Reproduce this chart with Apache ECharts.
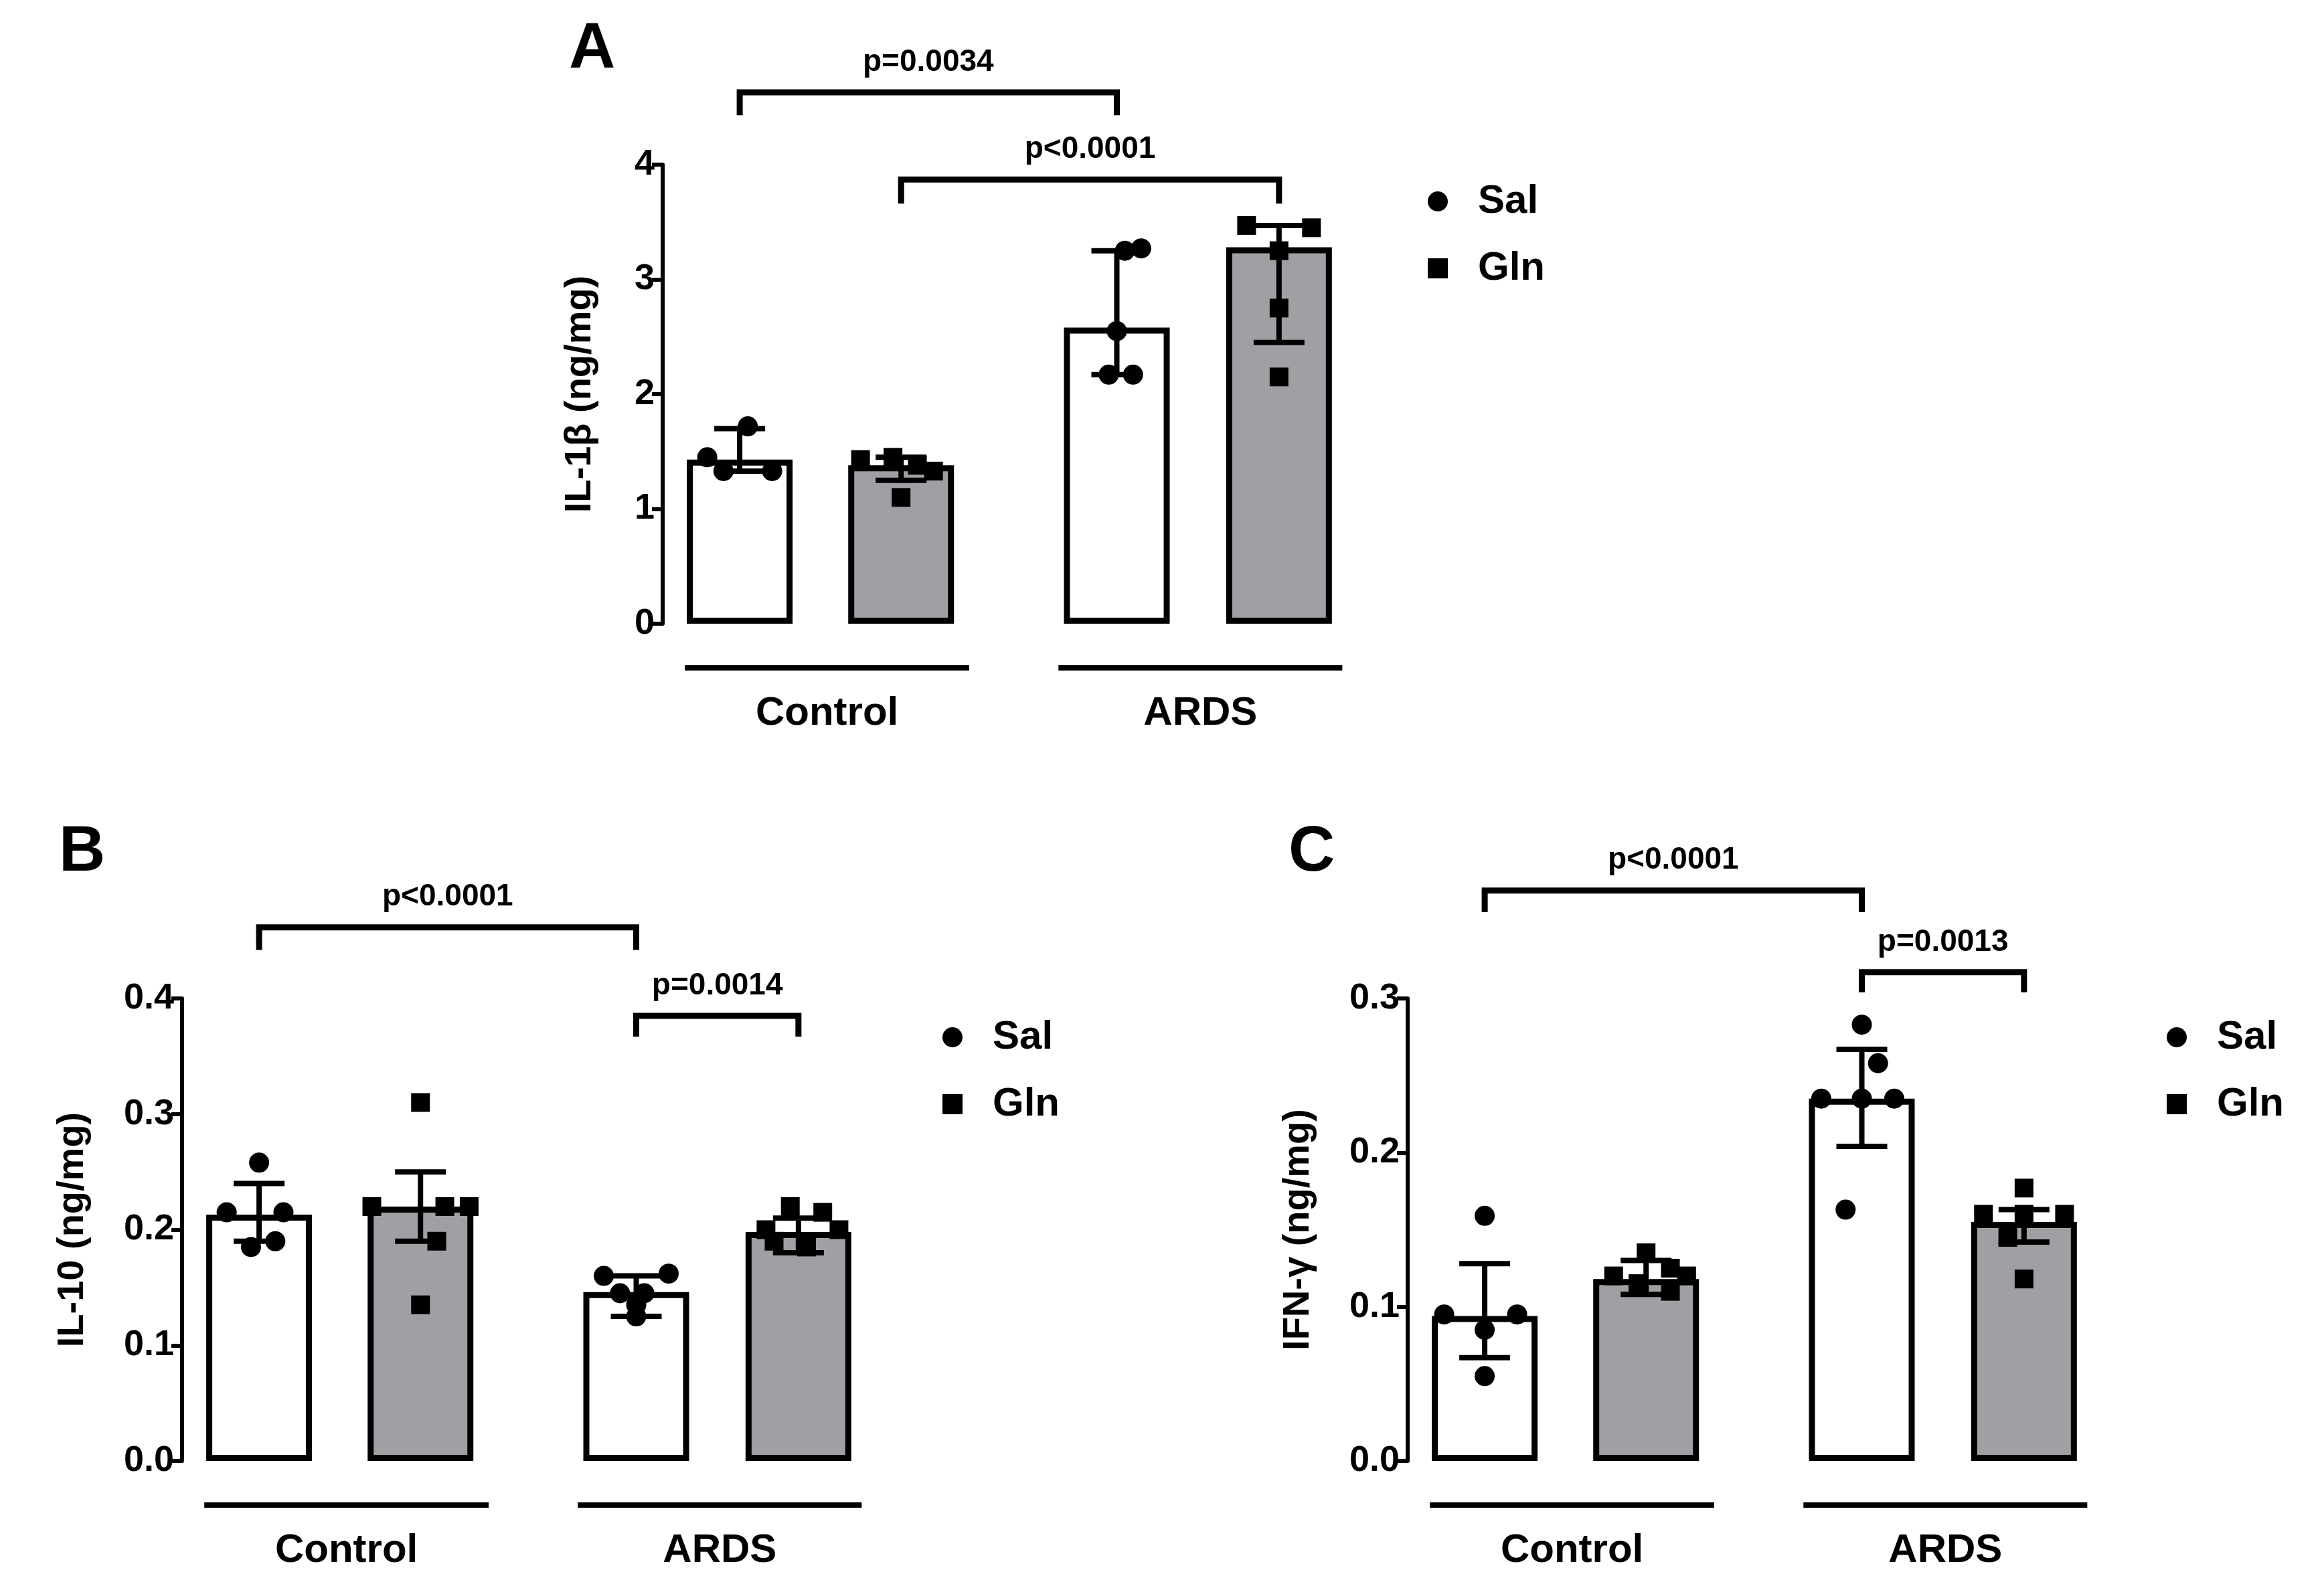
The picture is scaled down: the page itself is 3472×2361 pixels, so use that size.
<!DOCTYPE html>
<html><head><meta charset="utf-8">
<script src="https://cdn.jsdelivr.net/npm/echarts@6/dist/echarts.min.js"></script>
<style>html,body{margin:0;background:#fff}#c{width:3472px;height:2361px}</style>
</head><body><div id="c"></div>
<script>
const groups=['Control','ARDS'];
const xPos=[0.475,1.47,2.8,3.8];
const panelA={means:[1.43,1.38,2.58,3.28],lo:[1.33,1.25,2.17,2.45],hi:[1.70,1.45,3.25,3.47],
 dots:[[1.72,1.45,1.33,1.33],[1.43,1.45,1.38,1.10,1.33],[3.27,3.25,2.55,2.17,2.17],[3.47,3.45,3.25,2.75,2.15]],
 jit:[[0.05,-0.2,-0.1,0.2],[-0.25,-0.05,0.1,0.0,0.2],[0.15,0.05,0.0,-0.05,0.1],[-0.2,0.2,0.0,0.0,0.0]]};
const panelB={means:[0.213,0.220,0.146,0.198],lo:[0.19,0.19,0.125,0.18],hi:[0.24,0.25,0.16,0.21],
 dots:[[0.258,0.215,0.215,0.185,0.19],[0.31,0.22,0.22,0.19,0.135,0.22],[0.162,0.16,0.145,0.145,0.125,0.135],[0.22,0.215,0.20,0.20,0.185,0.19]],
 jit:[[0.0,-0.2,0.15,-0.05,0.1],[0.0,-0.3,0.3,0.1,0.0,0.15],[0.2,-0.2,0.05,-0.1,0.0,0.0],[-0.05,0.15,-0.2,0.25,0.05,-0.15]]};
const panelC={means:[0.094,0.118,0.235,0.155],lo:[0.067,0.108,0.204,0.142],hi:[0.128,0.13,0.267,0.163],
 dots:[[0.159,0.095,0.095,0.085,0.055],[0.135,0.125,0.12,0.115,0.11,0.12],[0.283,0.258,0.235,0.235,0.163,0.235],[0.177,0.16,0.16,0.16,0.118,0.145]],
 jit:[[0.0,-0.25,0.2,0.0,0.0],[0.0,0.15,-0.2,-0.05,0.15,0.25],[0.0,0.1,-0.25,0.2,-0.1,0.0],[0.0,-0.25,0.0,0.25,0.0,-0.1]]};
const panels=[
 {d:panelA,letter:'A',yname:'IL-1β (ng/mg)',max:4,interval:1,dec:0,grid:{left:990,top:246,width:1042,height:686},
  br:[[0,2,4.63,4.43,'p=0.0034'],[1,3,3.87,3.66,'p<0.0001']],leg:[2128,266]},
 {d:panelB,letter:'B',yname:'IL-10 (ng/mg)',max:0.4,interval:0.1,dec:1,grid:{left:272,top:1492,width:1042,height:691},
  br:[[0,2,0.4615,0.442,'p<0.0001'],[2,3,0.385,0.367,'p=0.0014']],leg:[1403,1515]},
 {d:panelC,letter:'C',yname:'IFN-γ (ng/mg)',max:0.3,interval:0.1,dec:1,grid:{left:2103,top:1492,width:1042,height:691},
  br:[[0,2,0.370,0.356,'p<0.0001'],[2,3,0.317,0.304,'p=0.0013']],leg:[3232,1515]}
];
const fills=['#ffffff','#a0a0a4','#ffffff','#a0a0a4'];
const F='Arial, Liberation Sans, sans-serif';
const opt={animation:false,backgroundColor:'#fff',grid:[],xAxis:[],yAxis:[],series:[],legend:[],graphic:[]};
panels.forEach((p,i)=>{
 opt.grid.push(p.grid);
 opt.xAxis.push({type:'value',gridIndex:i,min:0,max:4.3,show:false});
 opt.yAxis.push({type:'value',gridIndex:i,min:0,max:p.max,interval:p.interval,splitLine:{show:false},
  axisLine:{show:true,lineStyle:{color:'#000',width:6}},axisTick:{show:true,length:16,lineStyle:{color:'#000',width:6}},
  axisLabel:{color:'#000',fontSize:54,fontWeight:'bold',fontFamily:F,margin:12,formatter:v=>v.toFixed(p.dec)},
  name:p.yname,nameLocation:'middle',nameGap:p.dec?135:95,nameTextStyle:{color:'#000',fontSize:56,fontWeight:'bold',fontFamily:F}});
 opt.series.push({type:'bar',xAxisIndex:i,yAxisIndex:i,barWidth:158,z:2,
  data:p.d.means.map((m,k)=>({value:[xPos[k],m],itemStyle:{color:fills[k],borderColor:'#000',borderWidth:9}}))});
 opt.series.push({type:'custom',xAxisIndex:i,yAxisIndex:i,z:4,
  data:p.d.means.map((m,k)=>[xPos[k],p.d.lo[k],p.d.hi[k]]),
  renderItem:(params,api)=>{const a=api.coord([api.value(0),api.value(1)]),b=api.coord([api.value(0),api.value(2)]);const w=38;
   const st={stroke:'#000',lineWidth:8};
   return {type:'group',children:[{type:'line',shape:{x1:a[0],y1:a[1],x2:b[0],y2:b[1]},style:st},
    {type:'line',shape:{x1:a[0]-w,y1:a[1],x2:a[0]+w,y2:a[1]},style:st},{type:'line',shape:{x1:b[0]-w,y1:b[1],x2:b[0]+w,y2:b[1]},style:st}]};}});
 ['Sal','Gln'].forEach((nm,s)=>{
  const data=[];[s,s+2].forEach(k=>p.d.dots[k].forEach((v,j)=>data.push([xPos[k]+p.d.jit[k][j],v])));
  opt.series.push({name:nm,type:'scatter',xAxisIndex:i,yAxisIndex:i,z:5,symbol:s?'rect':'circle',symbolSize:s?28:30,
   itemStyle:{color:'#000',opacity:1},data});
 });
 opt.legend.push({left:p.leg[0],top:p.leg[1],orient:'vertical',itemGap:40,itemWidth:30,itemHeight:30,
  data:[{name:'Sal',icon:'circle',itemStyle:{color:'#000',opacity:1}},{name:'Gln',icon:'rect',itemStyle:{color:'#000',opacity:1}}],
  textStyle:{fontSize:60,color:'#000',fontWeight:'bold',fontFamily:F,padding:[0,0,0,40]}});
});
const chart=echarts.init(document.getElementById('c'));
chart.setOption(opt);
const g=[];
panels.forEach((p,i)=>{
 const px=(x,y)=>chart.convertToPixel({gridIndex:i},[x,y]);
 const bottom=p.grid.top+p.grid.height;
 [[0.137,1.89,0],[2.44,4.19,1]].forEach(([a,b,k])=>{
  const A=px(a,0),B=px(b,0);
  g.push({type:'line',shape:{x1:A[0],y1:bottom+66,x2:B[0],y2:bottom+66},style:{stroke:'#000',lineWidth:8}});
  g.push({type:'text',style:{text:groups[k],x:(A[0]+B[0])/2,y:bottom+134,textAlign:'center',textVerticalAlign:'middle',fontSize:60,fontWeight:'bold',fill:'#000',fontFamily:F}});
 });
 p.br.forEach(([a,b,yt,yd,t])=>{
  const A=px(xPos[a],yt),B=px(xPos[b],yt),D=px(xPos[a],yd);
  g.push({type:'polyline',shape:{points:[[A[0],D[1]],[A[0],A[1]],[B[0],B[1]],[B[0],D[1]]]},style:{stroke:'#000',lineWidth:9,fill:null}});
  g.push({type:'text',style:{text:t,x:(A[0]+B[0])/2,y:A[1]-45,textAlign:'center',textVerticalAlign:'middle',fontSize:46,fontWeight:'bold',fill:'#000',fontFamily:F}});
 });
});
g.push({type:'text',style:{text:'A',x:850,y:75,textAlign:'left',textVerticalAlign:'middle',fontSize:96,fontWeight:'bold',fill:'#000',fontFamily:F}});
g.push({type:'text',style:{text:'B',x:88,y:1275,textAlign:'left',textVerticalAlign:'middle',fontSize:96,fontWeight:'bold',fill:'#000',fontFamily:F}});
g.push({type:'text',style:{text:'C',x:1925,y:1275,textAlign:'left',textVerticalAlign:'middle',fontSize:96,fontWeight:'bold',fill:'#000',fontFamily:F}});
chart.setOption({graphic:g});
</script></body></html>
